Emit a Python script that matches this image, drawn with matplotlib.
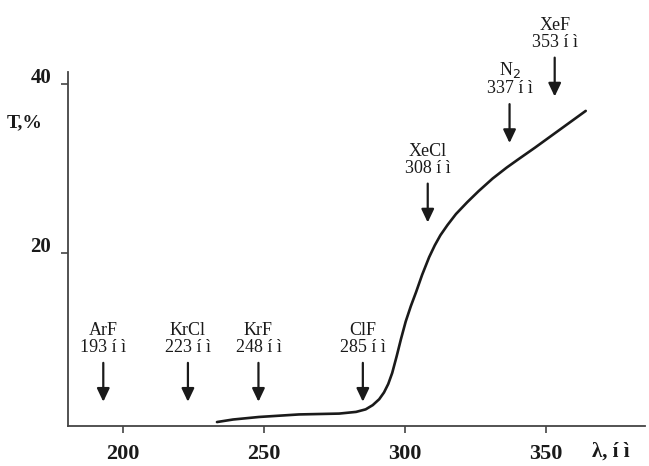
import matplotlib
matplotlib.use("Agg")
import matplotlib.pyplot as plt
from matplotlib.transforms import ScaledTranslation

# curve data (wavelength nm, transmission %)
wavelength = [233.3, 239, 248.2, 262.4, 276.6, 282.6, 286.0, 288.5, 290.8, 292.5, 294.0,
              295.4, 297.0, 298.5, 300.2, 302.0, 303.9, 306.0, 308.5, 310.5, 312.5, 315.0,
              318.0, 322.0, 326.0, 331.0, 336.0, 340.0, 346.0, 352.0, 358.0, 364.0]
transmission = [0.0, 0.3, 0.6, 0.9, 1.0, 1.2, 1.5, 2.0, 2.7, 3.5, 4.5,
                5.8, 7.8, 9.8, 11.9, 13.7, 15.4, 17.4, 19.5, 20.9, 22.1, 23.3,
                24.6, 26.0, 27.3, 28.8, 30.1, 31.05, 32.45, 33.9, 35.35, 36.8]

# laser lines
laser_names = ["ArF", "KrCl", "KrF", "ClF", "XeCl", "N$_2$", "XeF"]
laser_wl = [193, 223, 248, 285, 308, 337, 353]
arrow_head_T = [2.4, 2.4, 2.4, 2.4, 23.6, 33.0, 38.5]

xticks = [200, 250, 300, 350]
yticks = [20, 40]

serif = ["Liberation Serif", "DejaVu Serif"]
ink = "#1a1a1a"

fig = plt.figure(figsize=(6.49, 4.66), dpi=100)
ax = fig.add_axes([0.1048, 0.0858, 0.889, 0.7597])
ax.set_xlim(180.5, 385)
ax.set_ylim(-0.47, 41.4)

ax.plot(wavelength, transmission, color=ink, lw=1.9, solid_capstyle="round",
        solid_joinstyle="round")

for s in ["top", "right"]:
    ax.spines[s].set_visible(False)
for s in ["left", "bottom"]:
    ax.spines[s].set_color("#444444")
    ax.spines[s].set_linewidth(1.3)

ax.set_xticks(xticks)
ax.set_yticks(yticks)
ax.tick_params(axis="both", direction="out", length=5, width=1.2, color="#444444")
ax.tick_params(axis="x", pad=8)
ax.tick_params(axis="y", pad=7)
for lab in ax.get_xticklabels():
    lab.set_fontfamily(serif); lab.set_fontsize(16); lab.set_fontweight("bold"); lab.set_color(ink)
shift = ScaledTranslation(0, 8 / 100, fig.dpi_scale_trans)
for lab in ax.get_yticklabels():
    lab.set_fontfamily(serif); lab.set_fontsize(15); lab.set_fontweight("bold"); lab.set_color(ink)
    lab.set_transform(lab.get_transform() + shift)

ax.text(165.2, 35.4, "T,%", fontfamily=serif, fontsize=14, fontweight="bold",
        ha="center", va="center", color=ink, clip_on=False)
ax.text(373, -3.55, "λ, í ì", fontfamily=serif, fontsize=15, fontweight="bold",
        ha="center", va="center", color=ink, clip_on=False)

for name, wl, hy in zip(laser_names, laser_wl, arrow_head_T):
    ax.annotate("", xy=(wl, hy), xytext=(0, 28), textcoords="offset points",
                annotation_clip=False,
                arrowprops=dict(arrowstyle="-|>,head_length=0.8,head_width=0.38",
                                color=ink, lw=1.6, shrinkA=0, shrinkB=0))
    ax.annotate(f"{name}\n{wl} í ì", xy=(wl, hy), xytext=(0, 33), textcoords="offset points",
                ha="center", va="bottom", fontfamily=serif, fontsize=13,
                linespacing=1.0, color=ink, annotation_clip=False)

fig.savefig("out.png", dpi=100)
